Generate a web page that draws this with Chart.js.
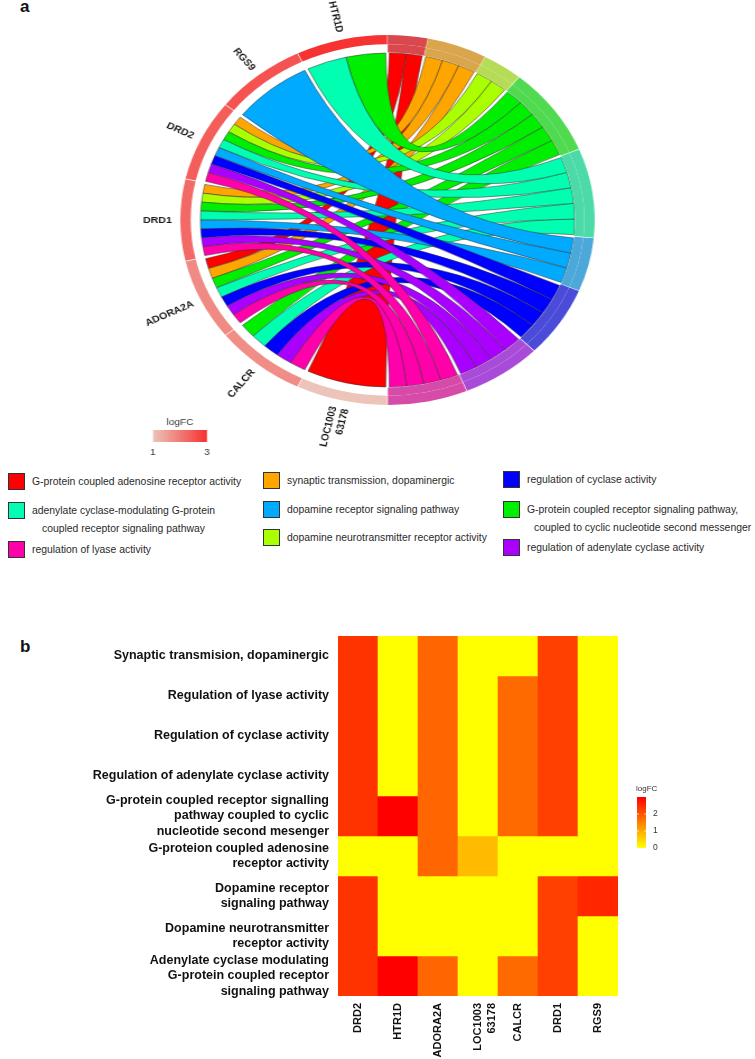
<!DOCTYPE html>
<html>
<head>
<meta charset="utf-8">
<script src="https://cdn.jsdelivr.net/npm/chart.js@4.4.0/dist/chart.umd.min.js"></script>
<style>
  body { margin: 0; background: #fff; font-family: "Liberation Sans", Arial, sans-serif; }
  #page { position: relative; width: 755px; height: 1059px; overflow: hidden; background: #fff; }
  #chordWrap { position: absolute; left: 0; top: 0; width: 674px; height: 465px; transform: scaleX(1.12); transform-origin: 0 0; }
  #heatWrap { position: absolute; left: 0; top: 600px; width: 755px; height: 459px; }
  .panel { position: absolute; font-weight: bold; font-size: 17px; color: #111; }
  .leg { position: absolute; font-size: 10.4px; line-height: 13px; color: #2a2a2a; white-space: nowrap; }
  .sw { position: absolute; width: 15px; height: 15px; border: 1px solid #333; }
</style>
</head>
<body>
<div id="page">
  <div class="panel" style="left:20px;top:-3px;">a</div>
  <div class="panel" style="left:20px;top:637px;">b</div>
  <div id="chordWrap"><canvas id="chordChart" width="674" height="465"></canvas></div>
  <div id="heatWrap"><canvas id="heatChart" width="755" height="459"></canvas></div>
</div>
<script>
// =============================================
//  GO chord (a) + logFC heatmap (b)
// =============================================

// ── DATA ─────────────────────────────────────
const genes = ["DRD2", "HTR1D", "ADORA2A", "LOC100363178", "CALCR", "DRD1", "RGS9"];
const geneTickLabels = ["DRD2", "HTR1D", "ADORA2A", ["LOC1003", "63178"], "CALCR", "DRD1", "RGS9"];
const logFC = [2.4, 3.0, 1.8, 0.8, 1.75, 2.25, 2.55];

// terms, in heatmap row order (top to bottom)
const termRowLabels = [
  "Synaptic transmision, dopaminergic",
  "Regulation of lyase activity",
  "Regulation of cyclase activity",
  "Regulation of adenylate cyclase activity",
  ["G-protein coupled receptor signalling", "pathway coupled to cyclic", "nucleotide second mesenger"],
  ["G-proteion coupled adenosine", "receptor activity"],
  ["Dopamine receptor", "signaling pathway"],
  ["Dopamine neurotransmitter", "receptor activity"],
  ["Adenylate cyclase modulating", "G-protein coupled receptor", "signaling pathway"]
];
const termLegendLabels = [
  "synaptic transmission, dopaminergic",
  "regulation of lyase activity",
  "regulation of cyclase activity",
  "regulation of adenylate cyclase activity",
  ["G-protein coupled receptor signaling pathway,", "coupled to cyclic nucleotide second messenger"],
  "G-protein coupled adenosine receptor activity",
  "dopamine receptor signaling pathway",
  "dopamine neurotransmitter receptor activity",
  ["adenylate cyclase-modulating G-protein", "coupled receptor signaling pathway"]
];
const termColors    = ["#FFA500", "#FF00AA", "#0000FF", "#AA00FF", "#00EE00", "#FF0000", "#00AAFF", "#AAFF00", "#00FFB0"];
const termArcColors = ["#D9A64E", "#D64BA8", "#4B4BD9", "#A94BD9", "#4FDA4F", "#D9484C", "#4CA8D9", "#B6DB56", "#4CDBA8"];

// gene membership: rows = terms (heatmap order), cols = genes
const membership = [
  [1, 0, 1, 0, 0, 1, 0],
  [1, 0, 1, 0, 1, 1, 0],
  [1, 0, 1, 0, 1, 1, 0],
  [1, 0, 1, 0, 1, 1, 0],
  [1, 1, 1, 0, 1, 1, 0],
  [0, 0, 1, 1, 0, 0, 0],
  [1, 0, 0, 0, 0, 1, 1],
  [1, 0, 0, 0, 0, 1, 0],
  [1, 1, 1, 0, 1, 1, 0]
];

// chord order, clockwise from 12 o'clock: terms on the right, genes on the left
const chordTermOrder = [5, 0, 7, 4, 8, 6, 2, 3, 1];
const chordGeneOrder = [3, 4, 2, 5, 0, 6, 1];

// legend columns (term indices)
const legendColumns = [[5, 8, 1], [0, 6, 7], [2, 4, 3]];

const heatTicks = [0, 1, 2];
const chordTicks = [1, 3];

// ── HELPERS ──────────────────────────────────
const FONT = '"Liberation Sans", Arial, sans-serif';
const HEAT_MAX = 3;

function heatColor(v) {
  const t = Math.max(0, Math.min(1, v / HEAT_MAX));
  return `rgb(255,${Math.round(255 * (1 - t))},0)`;
}

function lfcColor(v) {
  const t = Math.max(0, Math.min(1, (v - 1) / 2));
  const lo = [236, 196, 186], hi = [246, 50, 50];
  const c = lo.map((l, i) => Math.round(l + (hi[i] - l) * t));
  return `rgb(${c[0]},${c[1]},${c[2]})`;
}

function rowSum(r) { return r.reduce((a, b) => a + b, 0); }

// ── CHORD (a) ────────────────────────────────
const totalLinks = membership.reduce((s, r) => s + rowSum(r), 0);
const termCounts = chordTermOrder.map(t => rowSum(membership[t]));
const geneShares = chordGeneOrder.map(() => totalLinks / genes.length);
const segValues = termCounts.concat(geneShares);

const outerColors = chordTermOrder.map(t => termArcColors[t])
  .concat(chordGeneOrder.map(g => lfcColor(logFC[g])));
const innerColors = chordTermOrder.map(t => termArcColors[t])
  .concat(chordGeneOrder.map(() => "rgba(0,0,0,0)"));

function ribbonPath(ctx, cx, cy, r, a1, a2, b1, b2) {
  ctx.beginPath();
  ctx.arc(cx, cy, r, a1, a2);
  ctx.quadraticCurveTo(cx, cy, cx + r * Math.cos(b1), cy + r * Math.sin(b1));
  ctx.arc(cx, cy, r, b1, b2);
  ctx.quadraticCurveTo(cx, cy, cx + r * Math.cos(a1), cy + r * Math.sin(a1));
  ctx.closePath();
}

const ribbonPlugin = {
  id: "ribbons",
  beforeDatasetsDraw(chart) {
    const arcs = chart.getDatasetMeta(1).data;
    const nT = chordTermOrder.length;
    const cx = arcs[0].x, cy = arcs[0].y;
    const r = arcs[0].innerRadius + 1;
    const pad = 1.6 / r;
    const termSlot = {}, geneSlot = {};

    chordTermOrder.forEach((t, i) => {
      const a = arcs[i];
      const s = a.startAngle + pad, e = a.endAngle - pad;
      const linked = chordGeneOrder.slice().reverse().filter(g => membership[t][g]);
      const step = (e - s) / linked.length;
      linked.forEach((g, k) => { termSlot[t + "_" + g] = [s + k * step, s + (k + 1) * step]; });
    });
    chordGeneOrder.forEach((g, j) => {
      const a = arcs[nT + j];
      const s = a.startAngle + pad, e = a.endAngle - pad;
      const linked = chordTermOrder.slice().reverse().filter(t => membership[t][g]);
      const step = (e - s) / linked.length;
      linked.forEach((t, k) => { geneSlot[t + "_" + g] = [s + k * step, s + (k + 1) * step]; });
    });

    const ctx = chart.ctx;
    ctx.save();
    ctx.lineWidth = 0.6;
    ctx.strokeStyle = "rgba(50,50,50,0.85)";
    chordGeneOrder.forEach(g => {
      chordTermOrder.forEach(t => {
        if (!membership[t][g]) return;
        const [a1, a2] = geneSlot[t + "_" + g];
        const [b1, b2] = termSlot[t + "_" + g];
        ribbonPath(ctx, cx, cy, r, a1, a2, b1, b2);
        ctx.fillStyle = termColors[t];
        ctx.fill();
        ctx.stroke();
      });
    });
    ctx.restore();
  },
  afterDatasetsDraw(chart) {
    const ctx = chart.ctx;
    const arcs = chart.getDatasetMeta(0).data;
    const nT = chordTermOrder.length;
    ctx.save();
    ctx.font = `bold 9.5px ${FONT}`;
    ctx.fillStyle = "#1a1a1a";
    ctx.textAlign = "right";
    ctx.textBaseline = "middle";
    chordGeneOrder.forEach((g, j) => {
      const a = arcs[nT + j];
      const mid = (a.startAngle + a.endAngle) / 2;
      const rr = a.outerRadius + 9;
      ctx.save();
      ctx.translate(a.x + Math.cos(mid) * rr, a.y + Math.sin(mid) * rr);
      ctx.rotate(mid + Math.PI);
      const lines = [].concat(geneTickLabels[g]);
      lines.forEach((ln, k) => ctx.fillText(ln, 0, (k - (lines.length - 1) / 2) * 11));
      ctx.restore();
    });

    // logFC colour key
    const x0 = 136.6, x1 = 184.8, y0 = 430, y1 = 442;
    const grad = ctx.createLinearGradient(x0, 0, x1, 0);
    for (let i = 0; i <= 10; i++) grad.addColorStop(i / 10, lfcColor(1 + 2 * i / 10));
    ctx.fillStyle = grad;
    ctx.fillRect(x0, y0, x1 - x0, y1 - y0);
    ctx.fillStyle = "#333";
    ctx.font = `9px ${FONT}`;
    ctx.textAlign = "center";
    ctx.fillText("logFC", (x0 + x1) / 2, 423);
    chordTicks.forEach(v => {
      const x = x0 + (v - 1) / 2 * (x1 - x0);
      ctx.fillText(String(v), x, 453);
    });
    ctx.restore();
  }
};

new Chart(document.getElementById("chordChart"), {
  type: "doughnut",
  data: {
    labels: chordTermOrder.map(t => [].concat(termLegendLabels[t]).join(" "))
      .concat(chordGeneOrder.map(g => genes[g])),
    datasets: [
      { data: segValues, backgroundColor: outerColors, borderWidth: 0, weight: 9 },
      { data: segValues, backgroundColor: innerColors, borderWidth: 0, weight: 8 }
    ]
  },
  options: {
    responsive: false,
    animation: false,
    cutout: 166,
    spacing: 3,
    layout: { padding: { left: 161, right: 143, top: 35, bottom: 60 } },
    plugins: { legend: { display: false }, tooltip: { enabled: false } }
  },
  plugins: [ribbonPlugin]
});

// ── LEGEND (a) ───────────────────────────────
const page = document.getElementById("page");
const legendX = [8, 263, 503];
const legendIndent = [10, 9, 7];
const legendY = [[473, 502, 541], [472, 501, 529], [471, 501, 539]];
legendColumns.forEach((col, ci) => col.forEach((t, ri) => {
  const sw = document.createElement("div");
  sw.className = "sw";
  sw.style.left = legendX[ci] + "px";
  sw.style.top = legendY[ci][ri] + "px";
  sw.style.background = termColors[t];
  page.appendChild(sw);
  [].concat(termLegendLabels[t]).forEach((line, li) => {
    const d = document.createElement("div");
    d.className = "leg";
    d.style.left = (legendX[ci] + 24 + (li ? legendIndent[ci] : 0)) + "px";
    d.style.top = (legendY[ci][ri] + 2 + li * 18) + "px";
    d.textContent = line;
    page.appendChild(d);
  });
}));

// ── HEATMAP (b) ──────────────────────────────
const heatLegendPlugin = {
  id: "heatLegend",
  afterDraw(chart) {
    const ctx = chart.ctx;
    const x0 = 637, w = 9, yTop = 197, yBot = 248;
    const grad = ctx.createLinearGradient(0, yBot, 0, yTop);
    for (let i = 0; i <= 10; i++) grad.addColorStop(i / 10, heatColor(HEAT_MAX * i / 10));
    ctx.save();
    ctx.fillStyle = grad;
    ctx.fillRect(x0, yTop, w, yBot - yTop);
    ctx.fillStyle = "#333";
    ctx.font = `8px ${FONT}`;
    ctx.textAlign = "left";
    ctx.textBaseline = "alphabetic";
    ctx.fillText("logFC", x0 - 1, yTop - 6);
    ctx.font = `8.5px ${FONT}`;
    ctx.textBaseline = "middle";
    ctx.strokeStyle = "rgba(255,255,255,0.9)";
    ctx.lineWidth = 0.8;
    heatTicks.forEach(v => {
      const y = yBot - (v / HEAT_MAX) * (yBot - yTop);
      ctx.beginPath();
      ctx.moveTo(x0, y); ctx.lineTo(x0 + 2, y);
      ctx.moveTo(x0 + w - 2, y); ctx.lineTo(x0 + w, y);
      ctx.stroke();
      ctx.fillText(String(v), x0 + w + 7, y);
    });
    ctx.restore();
  }
};

new Chart(document.getElementById("heatChart"), {
  type: "bar",
  data: {
    labels: geneTickLabels,
    datasets: termRowLabels.map((lab, r) => ({
      label: [].concat(lab).join(" "),
      data: genes.map(() => 1),
      backgroundColor: genes.map((g, c) => heatColor(membership[r][c] ? logFC[c] : 0)),
      borderWidth: 0,
      barPercentage: 1,
      categoryPercentage: 1
    }))
  },
  options: {
    responsive: false,
    animation: false,
    layout: { padding: { left: 0, right: 137, top: 36, bottom: 0 } },
    plugins: { legend: { display: false }, tooltip: { enabled: false } },
    scales: {
      x: {
        stacked: true,
        grid: { display: false, drawTicks: false },
        border: { display: false },
        ticks: {
          autoSkip: false, minRotation: 90, maxRotation: 90, padding: 7,
          color: "#111", font: { family: FONT, size: 11, weight: "bold", lineHeight: 1.3 }
        },
        afterFit: ax => { ax.height = 63; }
      },
      y: {
        stacked: true,
        reverse: true,
        min: 0,
        max: termRowLabels.length,
        grid: { display: false, drawTicks: false },
        border: { display: false },
        afterBuildTicks: ax => { ax.ticks = termRowLabels.map((_, i) => ({ value: i + 0.5 })); },
        ticks: {
          autoSkip: false, padding: 9,
          color: "#111", font: { family: FONT, size: 12.5, weight: "bold", lineHeight: 1.24 },
          callback: (v, i) => termRowLabels[i]
        },
        afterFit: ax => { ax.width = 338; }
      }
    }
  },
  plugins: [heatLegendPlugin]
});
</script>
</body>
</html>
